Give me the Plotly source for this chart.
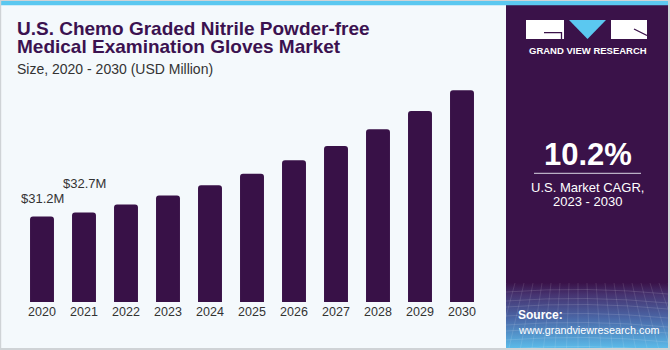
import base64
import plotly.graph_objects as go

# ---------------- data ----------------
years = ["2020", "2021", "2022", "2023", "2024", "2025", "2026", "2027", "2028", "2029", "2030"]
values = [31.2, 32.7, 35.6, 38.9, 42.6, 46.8, 51.7, 56.9, 63.0, 69.7, 77.3]
value_labels = {"2020": "$31.2M", "2021": "$32.7M"}
title_lines = ["U.S. Chemo Graded Nitrile Powder-free", "Medical Examination Gloves Market"]
subtitle = "Size, 2020 - 2030 (USD Million)"
cagr_value = "10.2%"
cagr_text = ["U.S. Market CAGR,", "2023 - 2030"]
brand = "GRAND VIEW RESEARCH"
source_head = "Source:"
source_url = "www.grandviewresearch.com"

# ---------------- style ----------------
W, H = 670, 350
ML, MR, MT, MB = 21, 187, 80, 48
PW, PH = W - ML - MR, H - MT - MB
BG = "#f4f9fc"
BAR = "#381147"
PANEL = "#3a1249"
CYAN = "#5bc8f0"
TXT = "#333333"
TITLE = "#3b1250"
FONT = "Liberation Sans, Arial, sans-serif"


def px(x):
    return (x - ML) / PW


def py(y):
    return (H - MB - y) / PH


fig = go.Figure(
    go.Bar(
        x=years,
        y=values,
        marker=dict(color=BAR, cornerradius=3, line=dict(width=0)),
        hoverinfo="skip",
    )
)

shapes = []
annotations = []


def rect(x0, y0, x1, y1, color, layer="below"):
    shapes.append(dict(type="rect", xref="paper", yref="paper",
                       x0=px(x0), x1=px(x1), y0=py(y1), y1=py(y0),
                       fillcolor=color, line=dict(width=0), layer=layer))


# right panel
rect(506, 5, 668, 348, PANEL)
# top cyan bar
rect(0, 1, 670, 5.3, CYAN)
# frame
rect(0, 0, 670, 1, "#cfd3d6")
rect(0, 0, 1.2, 350, "#cfd3d6")
rect(668, 0, 670, 350, "#cfd3d6")
rect(0, 348, 670, 350, "#cfd3d6")

# logo
rect(526, 20, 564, 39, "white", layer="above")
rect(611, 20, 647, 39, "white", layer="above")
shapes.append(dict(type="path", xref="paper", yref="paper", layer="above",
                   path=f"M {px(569)} {py(20)} L {px(606)} {py(20)} L {px(587.5)} {py(39)} Z",
                   fillcolor=CYAN, line=dict(width=0)))
shapes.append(dict(type="path", xref="paper", yref="paper", layer="above",
                   path=f"M {px(544)} {py(32.7)} L {px(561.5)} {py(32.7)} L {px(561.5)} {py(39)}",
                   line=dict(color=PANEL, width=1.3)))
shapes.append(dict(type="line", xref="paper", yref="paper", layer="above",
                   x0=px(634), y0=py(29), x1=px(647), y1=py(35.5),
                   line=dict(color=PANEL, width=1.3)))

# separator under CAGR value
shapes.append(dict(type="line", xref="paper", yref="paper", layer="above",
                   x0=px(534), x1=px(641), y0=py(173.3), y1=py(173.3),
                   line=dict(color="#b9aec4", width=1.2)))

# gradient source panel as an svg image
gw, gh = 162, 65
lines = []
for i in range(1, 9):
    yy = i * 8 + (i % 3)
    lines.append(f'<path d="M0 {yy} Q {gw/2} {yy-6} {gw} {yy+2}" stroke="white" stroke-opacity="0.16" fill="none" stroke-width="0.8"/>')
for i in range(-6, 22):
    xx = i * 9
    lines.append(f'<line x1="{xx}" y1="0" x2="{xx + (i - 8) * 2.5}" y2="{gh}" stroke="white" stroke-opacity="0.14" stroke-width="0.8"/>')
svg = (
    f'<svg xmlns="http://www.w3.org/2000/svg" width="{gw}" height="{gh}" viewBox="0 0 {gw} {gh}" preserveAspectRatio="none">'
    '<defs><linearGradient id="g" x1="0" y1="0" x2="0" y2="1">'
    f'<stop offset="0" stop-color="{PANEL}"/>'
    '<stop offset="0.18" stop-color="#463370"/>'
    '<stop offset="0.55" stop-color="#4a68a8"/>'
    '<stop offset="1" stop-color="#5bbbe9"/>'
    '</linearGradient></defs>'
    f'<rect width="{gw}" height="{gh}" fill="url(#g)"/>' + "".join(lines) + '</svg>'
)
src = "data:image/svg+xml;base64," + base64.b64encode(svg.encode()).decode()
images = [dict(source=src, xref="paper", yref="paper", x=px(506), y=py(283),
               sizex=gw / PW, sizey=gh / PH, xanchor="left", yanchor="top",
               sizing="stretch", layer="above")]


def text(x, y, s, size, color, bold=False, xanchor="left", yanchor="middle"):
    annotations.append(dict(x=px(x), y=py(y), xref="paper", yref="paper",
                            text=f"<b>{s}</b>" if bold else s, showarrow=False,
                            xanchor=xanchor, yanchor=yanchor,
                            font=dict(family=FONT, size=size, color=color)))


# title
text(15, 28.5, title_lines[0], 19, TITLE, bold=True)
text(15, 46.5, title_lines[1], 19, TITLE, bold=True)
text(15, 69.5, subtitle, 14, TXT)

# panel texts
text(587.5, 50.8, brand, 9.5, "white", bold=True, xanchor="center")
text(587.5, 154, cagr_value, 31, "white", bold=True, xanchor="center")
text(587.5, 187, cagr_text[0], 13, "white", xanchor="center")
text(587.5, 201, cagr_text[1], 13, "white", xanchor="center")
text(516, 315, source_head, 12, "white", bold=True)
text(516, 329.5, source_url, 10.8, "white")

# value labels
shifts = {"2020": 8, "2021": 19}
for yr, lab in value_labels.items():
    i = years.index(yr)
    annotations.append(dict(x=i, y=values[i], xref="x", yref="y",
                            text=lab, showarrow=False, yanchor="bottom",
                            xanchor="center", yshift=shifts[yr],
                            font=dict(family=FONT, size=13, color=TXT)))

fig.update_layout(
    width=W, height=H,
    margin=dict(l=ML, r=MR, t=MT, b=MB, pad=0),
    paper_bgcolor=BG, plot_bgcolor=BG,
    bargap=0.43,
    showlegend=False,
    shapes=shapes, annotations=annotations, images=images,
    xaxis=dict(type="category", range=[-0.5, 10.5], showgrid=False, zeroline=False,
               showline=False, ticks="", fixedrange=True,
               tickfont=dict(family=FONT, size=12.5, color=TXT)),
    yaxis=dict(range=[0, 81], visible=False, fixedrange=True),
)

fig.write_html("out.html", config={"displayModeBar": False})
